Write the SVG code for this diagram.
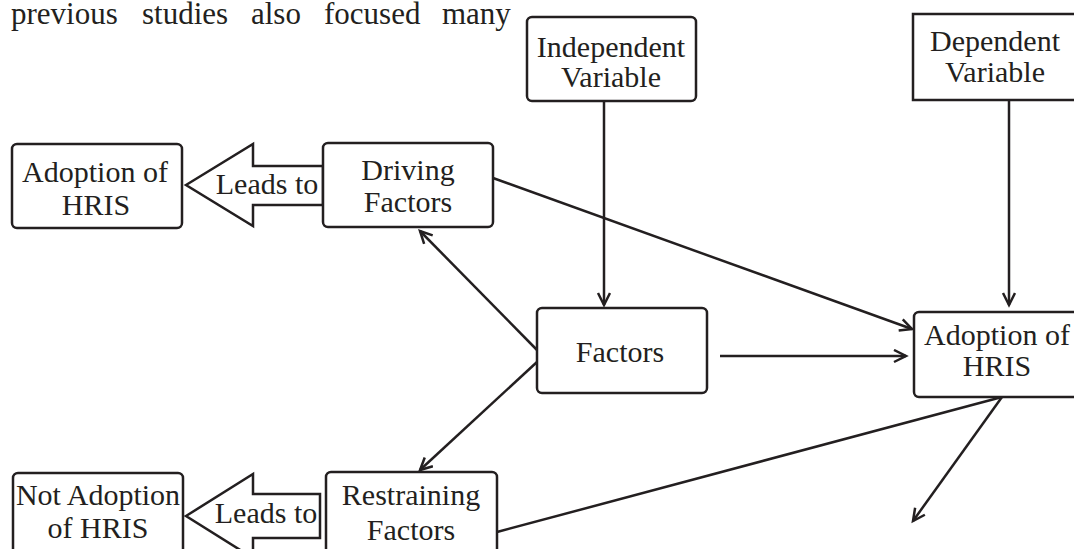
<svg xmlns="http://www.w3.org/2000/svg" width="1074" height="549" viewBox="0 0 1074 549">
<style>
  .box { fill: #fff; stroke: #231f20; stroke-width: 2.5; }
  .t { font-family: "Liberation Serif", "Times New Roman", serif; font-size: 30px; fill: #231f20; text-anchor: middle; }
  .p { font-family: "Liberation Serif", "Times New Roman", serif; font-size: 31px; fill: #231f20; }
  .c { stroke: #231f20; stroke-width: 2.5; fill: none; }
  .blk { fill: #fff; stroke: #231f20; stroke-width: 2.5; stroke-linejoin: miter; }
</style>
<defs>
  <marker id="arr" markerUnits="userSpaceOnUse" markerWidth="16" markerHeight="16" refX="13" refY="7" orient="auto">
    <path d="M1,1 L13,7 L1,13" fill="none" stroke="#231f20" stroke-width="2.5"/>
  </marker>
</defs>
<rect width="1074" height="549" fill="#fff"/>

<g id="paragraph">
  <text class="p" x="11" y="24">previous</text>
  <text class="p" x="142" y="24">studies</text>
  <text class="p" x="251" y="24">also</text>
  <text class="p" x="324" y="24">focused</text>
  <text class="p" x="442" y="24">many</text>
</g>

<g id="connectors">
  <path class="c" d="M604,101 L604,305" marker-end="url(#arr)"/>
  <path class="c" d="M1009,100 L1009,305" marker-end="url(#arr)"/>
  <path class="c" d="M493,178 L912,329" marker-end="url(#arr)"/>
  <path class="c" d="M720,356 L906,356" marker-end="url(#arr)"/>
  <path class="c" d="M537,350 L420,231" marker-end="url(#arr)"/>
  <path class="c" d="M537,362 L420,470" marker-end="url(#arr)"/>
  <path class="c" d="M497,532 L1002,397"/>
  <path class="c" d="M1002,397 L913,521" marker-end="url(#arr)"/>
</g>

<g id="leads1">
  <polygon class="blk" points="186,185 253,144 253,166 323,166 323,205 253,205 253,226"/>
  <text class="t" x="267" y="194">Leads to</text>
</g>
<g id="leads2">
  <polygon class="blk" points="186,516 253,474 253,494 320,494 320,538 253,538 253,558"/>
  <text class="t" x="266" y="523">Leads to</text>
</g>

<g id="adoption-left">
  <rect class="box" x="12" y="144" width="170" height="84" rx="5"/>
  <text class="t" x="95" y="182">Adoption of</text>
  <text class="t" x="96" y="215">HRIS</text>
</g>
<g id="driving">
  <rect class="box" x="323" y="143" width="170" height="84" rx="5"/>
  <text class="t" x="408" y="180">Driving</text>
  <text class="t" x="408" y="212">Factors</text>
</g>
<g id="independent">
  <rect class="box" x="527" y="17" width="169" height="84" rx="5"/>
  <text class="t" x="611" y="57">Independent</text>
  <text class="t" x="611" y="87">Variable</text>
</g>
<g id="dependent">
  <rect class="box" x="913" y="14" width="170" height="86" stroke-width="3"/>
  <text class="t" x="995" y="51">Dependent</text>
  <text class="t" x="995" y="82">Variable</text>
</g>
<g id="factors">
  <rect class="box" x="537" y="308" width="170" height="85" rx="5"/>
  <text class="t" x="620" y="362">Factors</text>
</g>
<g id="adoption-right">
  <rect class="box" x="914" y="312" width="170" height="85" rx="5"/>
  <text class="t" x="997" y="345">Adoption of</text>
  <text class="t" x="997" y="376">HRIS</text>
</g>
<g id="not-adoption">
  <rect class="box" x="13" y="473" width="170" height="95" rx="5"/>
  <text class="t" x="98" y="505">Not Adoption</text>
  <text class="t" x="98" y="538">of HRIS</text>
</g>
<g id="restraining">
  <rect class="box" x="326" y="472" width="171" height="95" rx="5"/>
  <text class="t" x="411" y="505">Restraining</text>
  <text class="t" x="411" y="540">Factors</text>
</g>
</svg>
